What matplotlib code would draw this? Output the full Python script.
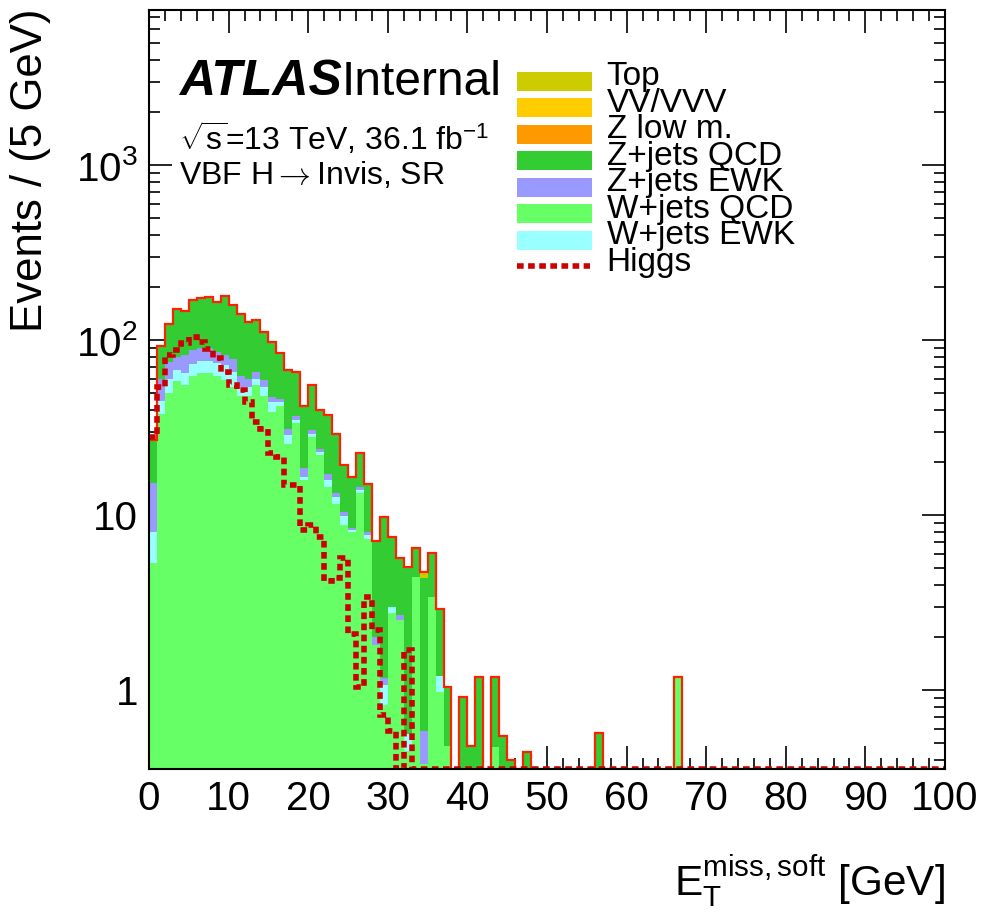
import numpy as np
import matplotlib
matplotlib.use("Agg")
import matplotlib.pyplot as plt
from matplotlib.patches import Rectangle
from matplotlib.lines import Line2D
from matplotlib.ticker import FixedLocator, FixedFormatter, LogLocator, NullFormatter, MultipleLocator

plt.rcParams["font.family"] = ["Liberation Sans", "DejaVu Sans"]
plt.rcParams["mathtext.fontset"] = "custom"
plt.rcParams["mathtext.rm"] = "Liberation Sans"
plt.rcParams["mathtext.it"] = "Liberation Sans:italic"
plt.rcParams["mathtext.bf"] = "Liberation Sans:bold"
plt.rcParams["mathtext.sf"] = "Liberation Sans"

# ---- binning: 1 GeV bins from 0 to 100 GeV ----
bin_edges = np.arange(0, 101, 1)

# ---- background processes (events per bin) ----
w_qcd = [5.3, 38, 50, 58, 55, 62, 64.5, 64.5, 62, 59,
         54, 48, 48, 55, 48, 39, 42, 25.5, 33.4, 15.8,
         28, 22, 14.4, 11.6, 8.8, 8.0, 13.4, 7.3, 1.8, 0.82,
         2.74, 2.5, 0.45, 4.4, 0.38, 3.39, 0.98, 0.48, 0, 0,
         0, 0, 0, 0.47, 0, 0, 0, 0] + [0] * 18 + [1.18] + [0] * 33

w_ewk = [2.7, 7, 10, 9, 10, 11, 11.5, 11.5, 12, 13,
         12, 6, 6, 5, 6, 5.5, 2.5, 3.1, 1.6, 0.7,
         1.0, 1.0, 1.4, 1.1, 1.1, 0.2, 0.5, 0.4, 0, 0.25,
         0.23, 0, 0.11, 0, 0, 0, 0.23, 0, 0, 0,
         0, 0, 0, 0, 0, 0, 0, 0] + [0] * 52

z_ewk = [7.2, 15, 15, 13, 17, 15, 14, 14, 12, 10,
         12, 8, 6, 6, 5, 2.5, 1.5, 2.4, 1.8, 2.0,
         1.6, 1.0, 1.3, 0.7, 0.5, 0.2, 0.5, 0.3, 0.2, 0.1,
         0, 0.2, 0, 0, 0.2, 0, 0, 0, 0, 0,
         0, 0, 0, 0, 0, 0, 0, 0] + [0] * 52

z_qcd = [11.8, 32, 47, 70, 63, 80, 82, 84, 77, 95,
         80, 79, 67, 63, 52, 50, 38, 36.5, 29.2, 23.5,
         24.4, 15.5, 19.9, 15.5, 8.9, 8.0, 8.1, 7.0, 5.1, 8.63,
         4.48, 3.0, 4.51, 2.0, 3.8, 2.65, 1.69, 0.56, 0, 0.91,
         0.48, 1.19, 0, 0.72, 0.55, 0.4, 0, 0.44] + [0] * 8 + [0.57] + [0] * 43

z_low = [0, 0, 0.3, 0.4, 0.3, 0.5, 0.4, 0.3, 0.3, 0.2,
         0.2, 0.1, 0.1, 0, 0, 0, 0, 0, 0, 0] + [0] * 80

vv = [0, 0.2, 0.3, 0.5, 0.6, 0.5, 0.6, 0.5, 0.4, 0.5,
      0.4, 0.3, 0.3, 0.3, 0.2, 0.2, 0.2, 0.1, 0.1, 0.1,
      0.1, 0.1, 0.2, 0.1, 0, 0, 0, 0, 0, 0,
      0, 0, 0, 0.1, 0, 0, 0, 0, 0, 0] + [0] * 60

top = [0, 0.2, 0.3, 0.3, 0.4, 0.4, 0.3, 0.3, 0.3, 0.3,
       0.2, 0.2, 0.2, 0.1, 0.1, 0.1, 0.1, 0, 0, 0,
       0, 0, 0, 0, 0, 0, 0, 0, 0, 0,
       0, 0, 0, 0, 0.36, 0, 0, 0, 0, 0] + [0] * 60

# ---- signal ----
higgs = [28, 54, 82, 88, 96, 104, 97, 88.5, 78.6, 66,
         55, 52, 44.5, 34, 31, 22.5, 21.5, 14.8, 14.8, 8.2,
         8.8, 7.5, 4.2, 4.35, 5.7, 2.1, 1.04, 3.4, 2.2, 0.72,
         0.58, 0, 1.7] + [0] * 67

# stacking order, bottom to top
stack = [
    ("W+jets QCD", w_qcd, "#66ff66"),
    ("W+jets EWK", w_ewk, "#99ffff"),
    ("Z+jets EWK", z_ewk, "#9999ff"),
    ("Z+jets QCD", z_qcd, "#33cc33"),
    ("Z low m.", z_low, "#ff9900"),
    ("VV/VVV", vv, "#ffcc00"),
    ("Top", top, "#cccc00"),
]
legend_order = ["Top", "VV/VVV", "Z low m.", "Z+jets QCD", "Z+jets EWK",
                "W+jets QCD", "W+jets EWK"]
higgs_color = "#cc0000"
total_color = "#ff2200"

W, H = 987, 913
fig = plt.figure(figsize=(W / 100, H / 100), dpi=100)
ax = fig.add_axes([149 / W, 1 - 769 / H, (945 - 149) / W, (769 - 10) / H])
ax.set_yscale("log")
ymin, ymax = 0.354, 7690
ax.set_xlim(0, 100)
ax.set_ylim(ymin, ymax)

floor = 1e-3
bottom = np.zeros(len(bin_edges) - 1)
for name, vals, col in stack:
    upper = bottom + np.asarray(vals, dtype=float)
    ax.stairs(np.maximum(upper, floor), bin_edges,
              baseline=np.maximum(bottom, floor),
              fill=True, color=col, lw=0, zorder=2)
    bottom = upper
total = bottom

ax.stairs(np.maximum(total, ymin), bin_edges, baseline=None,
          color=total_color, lw=1.6, zorder=3)
ax.stairs(np.maximum(np.asarray(higgs, float), ymin), bin_edges, baseline=None,
          color=higgs_color, lw=4, linestyle=(0, (1.2, 0.8)), zorder=4)

# axes styling
for sp in ax.spines.values():
    sp.set_linewidth(1.5)
    sp.set_zorder(6)
ax.xaxis.set_major_locator(MultipleLocator(10))
ax.xaxis.set_minor_locator(MultipleLocator(2))
ax.yaxis.set_major_locator(FixedLocator([1, 10, 100, 1000]))
ax.yaxis.set_major_formatter(FixedFormatter(["1", "10", r"$10^{2}$", r"$10^{3}$"]))
ax.yaxis.set_minor_locator(LogLocator(base=10, subs=np.arange(2, 10)))
ax.yaxis.set_minor_formatter(NullFormatter())
ax.tick_params(which="both", direction="in", top=True, right=True, width=1.2)
ax.tick_params(which="major", length=16.5, labelsize=29)
ax.tick_params(which="minor", length=8)
ax.tick_params(axis="x", which="major", pad=8)
ax.tick_params(axis="y", which="major", pad=8)

# axis titles
fig.text(945 / W, 1 - 896 / H,
         r"$\mathrm{E}_{\mathrm{T}}^{\mathrm{miss,soft}}$ [GeV]",
         fontsize=30.5, ha="right", va="baseline")
fig.text(31 / W, 1 - 8 / H, "Events / (5 GeV)", fontsize=31.5, rotation=90,
         ha="center", va="top")

# labels
fig.text(179.3 / W, 1 - 95 / H, "ATLAS", fontsize=36, fontweight="bold",
         fontstyle="italic", va="baseline")
fig.text(341.5 / W, 1 - 95 / H, "Internal", fontsize=34.5, va="baseline")
fig.text(179.3 / W, 1 - 150 / H, r"$\sqrt{\mathrm{s}}$=13 TeV, 36.1 fb$^{-1}$",
         fontsize=23, va="baseline")
fig.text(179.3 / W, 1 - 184 / H, r"VBF H$\rightarrow$Invis, SR", fontsize=23,
         va="baseline", math_fontfamily="cm")

# legend
colors = {name: col for name, _, col in stack}
row = 26.55
for i, name in enumerate(legend_order):
    ytop = 71.7 + row * i
    fig.add_artist(Rectangle((517.3 / W, 1 - (ytop + 19) / H), 75 / W, 19 / H,
                             transform=fig.transFigure, facecolor=colors[name],
                             edgecolor="none"))
    fig.text(606.7 / W, 1 - (85 + row * i) / H, name, fontsize=24, va="baseline")
fig.add_artist(Line2D([517 / W, 590 / W], [1 - 266 / H, 1 - 266 / H],
                      transform=fig.transFigure, color=higgs_color, lw=4,
                      linestyle=(0, (1.2, 0.8))))
fig.text(606.7 / W, 1 - (85 + row * 7) / H, "Higgs", fontsize=24, va="baseline")

fig.savefig("out.png", dpi=100)
